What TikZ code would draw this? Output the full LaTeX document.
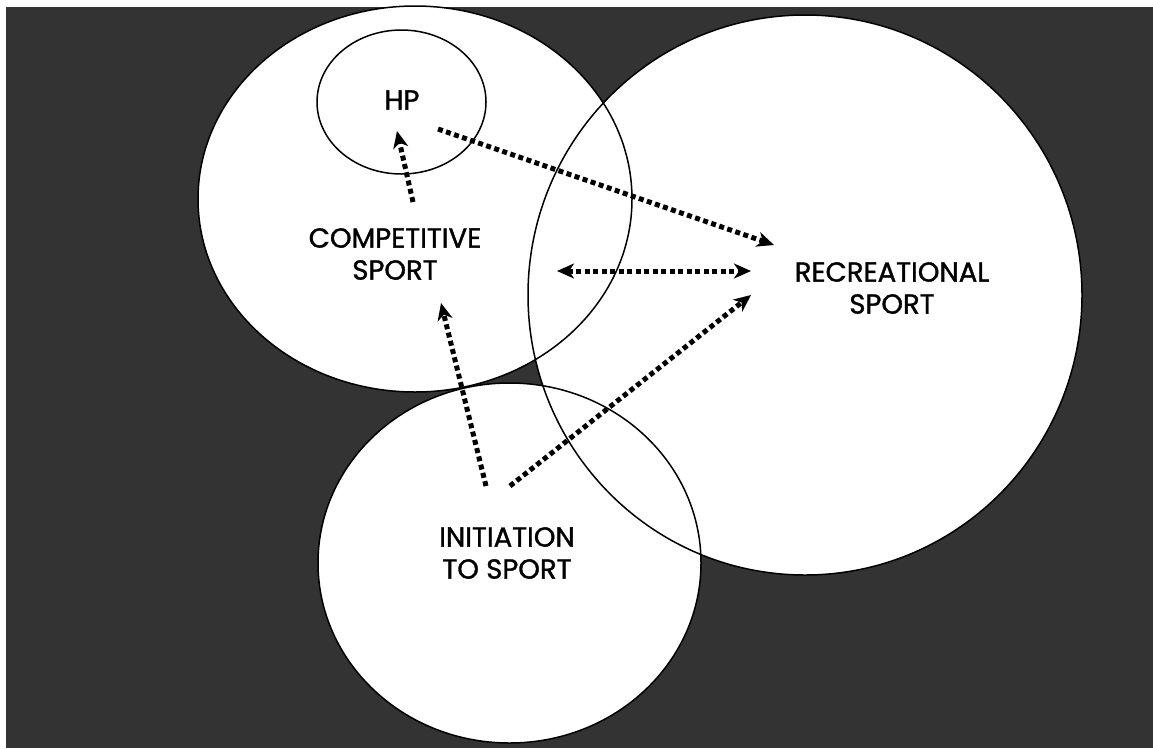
\documentclass[tikz,border=0pt]{standalone}
\usepackage{fontspec}
\setmainfont{Poppins}[FakeBold=1.3]
\usetikzlibrary{arrows.meta}
\definecolor{bgdark}{HTML}{333333}
\tikzset{
  blob/.style={draw=black, line width=1.5pt},
  lbl/.style={font=\fontsize{27.5}{32}\selectfont, align=center, inner sep=0pt, text=black},
  tip/.tip={Stealth[length=17pt,width=15pt,inset=5pt]},
  flow/.style={line width=5pt, dash pattern=on 5pt off 3.5pt, -tip},
  flowboth/.style={flow, tip-tip}
}
\begin{document}
\begin{tikzpicture}[x=1pt,y=-1pt]
\useasboundingbox (0,0) rectangle (1153,748);
\fill[white] (0,0) rectangle (1153,748);
\fill[bgdark] (6,7) rectangle (1153,748);
% fills
\fill[white] (415,199) ellipse [x radius=217, y radius=193];
\fill[white] (805,295) ellipse [x radius=277, y radius=280];
\fill[white] (509.5,563) ellipse [x radius=191.5, y radius=180];
% outlines
\draw[blob] (415,199) ellipse [x radius=217, y radius=193];
\draw[blob] (805,295) ellipse [x radius=277, y radius=280];
\draw[blob] (509.5,563) ellipse [x radius=191.5, y radius=180];
\draw[blob] (401.5,102) ellipse [x radius=84.5, y radius=72];
% labels
\node[lbl] (hp) at (402,100) {HP};
\node[lbl] (comp) at (395,254) {COMPETITIVE\\SPORT};
\node[lbl] (rec) at (892,288) {RECREATIONAL\\SPORT};
\node[lbl] (init) at (507,553) {INITIATION\\TO SPORT};
% arrow end points
\coordinate (c1) at (413,202);
\coordinate (h1) at (397,131);
\coordinate (h2) at (438,129);
\coordinate (r1) at (774,245);
\coordinate (m1) at (557,271);
\coordinate (r2) at (751,271);
\coordinate (i1) at (510,486);
\coordinate (r3) at (751,295);
\coordinate (i2) at (486,486);
\coordinate (c2) at (441,303);
\draw[flow] (c1) -- (h1);
\draw[flow] (h2) -- (r1);
\draw[flowboth] (m1) -- (r2);
\draw[flow] (i1) -- (r3);
\draw[flow] (i2) -- (c2);
\end{tikzpicture}
\end{document}
